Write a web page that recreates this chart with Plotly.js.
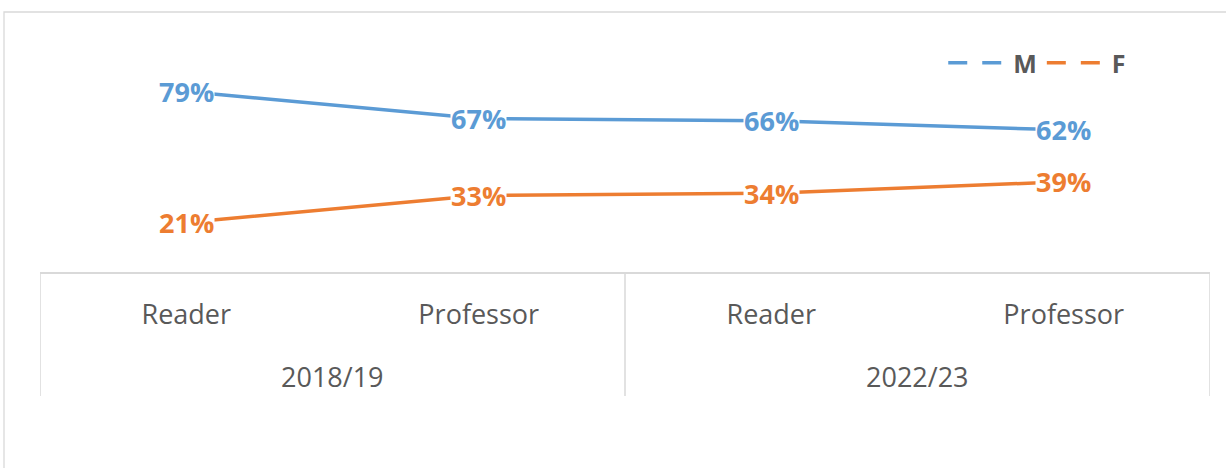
<!DOCTYPE html>
<html>
<head>
<meta charset="utf-8">
<script src="https://cdn.plot.ly/plotly-3.0.1.min.js"></script>
<style>
html,body{margin:0;padding:0;background:#fff;}
#chart{width:1226px;height:468px;}
</style>
</head>
<body>
<div id="chart"></div>
<script>
// ---- data ----
const years = ["2018/19", "2018/19", "2022/23", "2022/23"];
const roles = ["Reader", "Professor", "Reader", "Professor"];
const groupLabels = ["2018/19", "2022/23"];
const seriesNames = ["M", "F"];
const maleValues = [79, 67, 66, 62];
const femaleValues = [21, 33, 34, 39];

const colors = {M: "#5b9bd5", F: "#ed7d31"};
const fontFam = "'Open Sans', 'DejaVu Sans', sans-serif";

const xIdx = roles.map((_, i) => i);

const traces = [
  {x: xIdx, y: maleValues, mode: "lines", name: seriesNames[0], showlegend: false,
   line: {color: colors.M, width: 3.5}, hoverinfo: "skip"},
  {x: xIdx, y: femaleValues, mode: "lines", name: seriesNames[1], showlegend: false,
   line: {color: colors.F, width: 3.5}, hoverinfo: "skip"},
  // legend-only keys (dashed sample as in reference)
  {x: [null], y: [null], mode: "lines", name: seriesNames[0], showlegend: true,
   line: {color: colors.M, width: 3.5, dash: "19px,15px"}},
  {x: [null], y: [null], mode: "lines", name: seriesNames[1], showlegend: true,
   line: {color: colors.F, width: 3.5, dash: "19px,15px"}}
];

const annotations = [];
function addLabels(vals, color) {
  vals.forEach((v, i) => {
    annotations.push({
      x: i, y: v, xref: "x", yref: "y", text: v + "%", showarrow: false,
      font: {family: fontFam, size: 27, color: color, weight: "bold"},
      bgcolor: "#ffffff", borderpad: 0, xanchor: "center", yanchor: "middle"
    });
  });
}
addLabels(maleValues, colors.M);
addLabels(femaleValues, colors.F);

// group labels (outer category row)
const plotTop = 44, plotBottom = 272, plotH = plotBottom - plotTop;
function py(pix) { return (plotBottom - pix) / plotH; }
groupLabels.forEach((g, k) => {
  annotations.push({
    x: 2 * k + 0.5, xref: "x", y: py(376), yref: "paper", text: g, showarrow: false,
    font: {family: fontFam, size: 27, color: "#595959"}, xanchor: "center", yanchor: "middle"
  });
});

const shapes = [
  // outer chart frame
  {type: "rect", xref: "paper", yref: "paper", x0: (4 - 40) / 1170, x1: (1240 - 40) / 1170,
   y0: py(12), y1: py(480), line: {color: "#d9d9d9", width: 1.3}, layer: "below"},
];
// category dividers
[-0.5, 1.5, 3.5].forEach(xv => {
  shapes.push({type: "line", xref: "x", yref: "paper", x0: xv, x1: xv, y0: 0, y1: py(396),
    line: {color: "#d9d9d9", width: 1.5}});
});

const layout = {
  width: 1226, height: 468,
  margin: {l: 40, r: 16, t: plotTop, b: 468 - plotBottom},
  paper_bgcolor: "#ffffff", plot_bgcolor: "#ffffff",
  showlegend: true,
  legend: {orientation: "h", x: 0.772, y: py(63), xanchor: "left", yanchor: "middle",
    font: {family: fontFam, size: 25, color: "#595959", weight: "bold"},
    itemwidth: 60, bgcolor: "rgba(0,0,0,0)", tracegroupgap: 0},
  xaxis: {range: [-0.5, 3.5], tickmode: "array", tickvals: xIdx, ticktext: roles,
    showgrid: false, zeroline: false, showline: true, linecolor: "#d9d9d9", linewidth: 1.5,
    ticks: "outside", ticklen: 18, tickcolor: "rgba(0,0,0,0)",
    tickfont: {family: fontFam, size: 27, color: "#595959"}, fixedrange: true},
  yaxis: {range: [-0.9, 100], visible: false, showgrid: false, zeroline: false, fixedrange: true},
  annotations: annotations,
  shapes: shapes
};

Plotly.newPlot("chart", traces, layout, {displayModeBar: false, staticPlot: true});
</script>
</body>
</html>
